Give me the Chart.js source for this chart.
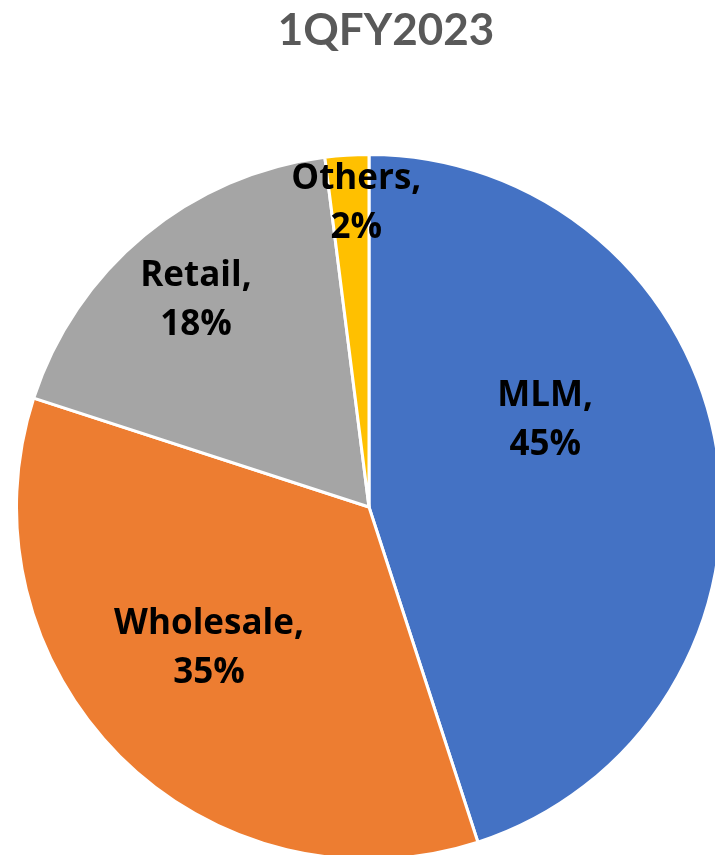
<!DOCTYPE html>
<html>
<head>
<meta charset="utf-8">
<script src="https://cdn.jsdelivr.net/npm/chart.js@4/dist/chart.umd.min.js"></script>
<style>
  html, body { margin: 0; padding: 0; background: #fff; overflow: hidden; width: 715px; height: 855px; }
  #title { position: absolute; left: 0; top: 2px; width: 772px; text-align: center;
           font: bold 44px/53px Lato; color: #595959; }
  #wrap { position: absolute; left: 15px; top: 0; width: 708px; height: 861px; }
</style>
</head>
<body>
<div id="wrap"><canvas id="chart"></canvas></div>
<div id="title"></div>
<script>
// 数据
const categories = ['MLM', 'Wholesale', 'Retail', 'Others'];
const shares = [45, 35, 18, 2];
const sliceColors = ['#4472C4', '#ED7D31', '#A5A5A5', '#FFC000'];
const chartTitle = '1QFY2023';

// 标签位置：扇区内的角度比例和半径比例
const labelPlacement = [
    { t: 0.39, r: 0.56 },
    { t: 0.533, r: 0.60 },
    { t: 0.50, r: 0.77 },
    { t: 0.67, r: 0.87 }
];

document.getElementById('title').textContent = chartTitle;

// 自定义标签插件
const sliceLabels = {
    id: 'sliceLabels',
    afterDatasetsDraw(chart) {
        const ctx = chart.ctx;
        const meta = chart.getDatasetMeta(0);
        ctx.save();
        ctx.font = 'bold 35px "Open Sans"';
        ctx.fillStyle = '#000';
        ctx.textAlign = 'center';
        ctx.textBaseline = 'middle';
        meta.data.forEach(function(arc, i) {
            const p = arc.getProps(['x', 'y', 'startAngle', 'endAngle', 'outerRadius'], true);
            const pl = labelPlacement[i];
            const a = p.startAngle + pl.t * (p.endAngle - p.startAngle);
            const cx = p.x + Math.cos(a) * p.outerRadius * pl.r;
            const cy = p.y + Math.sin(a) * p.outerRadius * pl.r + 3;
            ctx.fillText(categories[i] + ',', cx, cy - 24.5);
            ctx.fillText(shares[i] + '%', cx, cy + 24.5);
        });
        ctx.restore();
    }
};

new Chart(document.getElementById('chart'), {
    type: 'pie',
    data: {
        labels: categories,
        datasets: [{
            data: shares,
            backgroundColor: sliceColors,
            borderColor: '#ffffff',
            borderWidth: 3
        }]
    },
    options: {
        responsive: true,
        maintainAspectRatio: false,
        animation: false,
        layout: { padding: { top: 153 } },
        plugins: {
            legend: { display: false },
            tooltip: { enabled: false },
            title: { display: false }
        }
    },
    plugins: [sliceLabels]
});
</script>
</body>
</html>
